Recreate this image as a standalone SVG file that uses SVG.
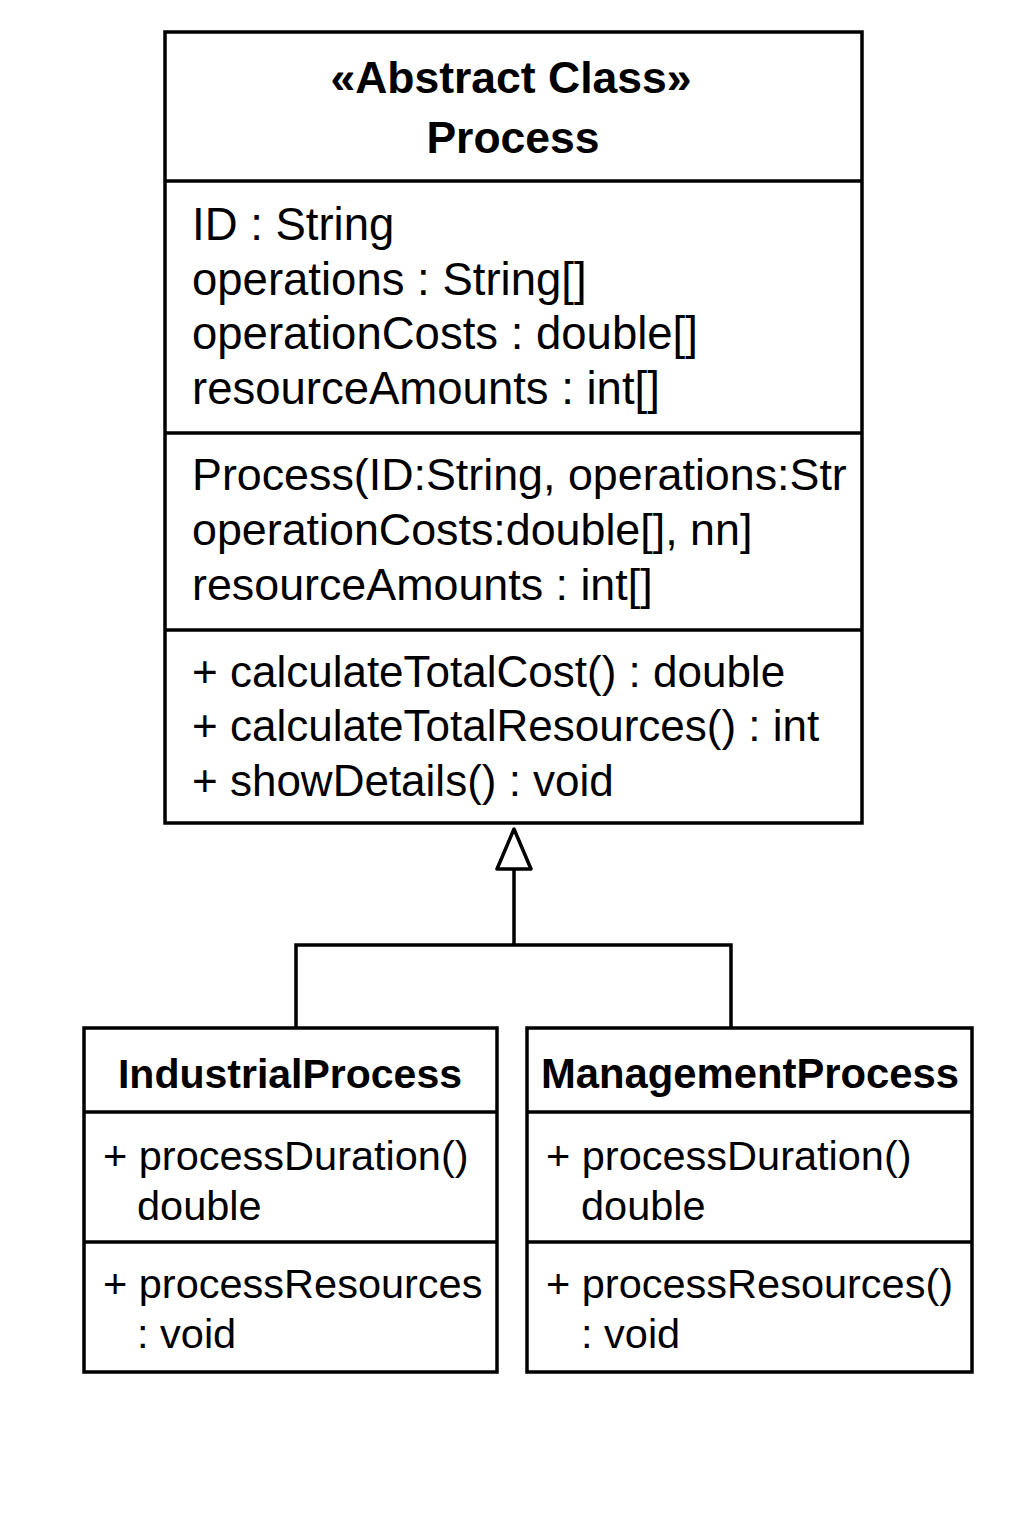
<svg xmlns="http://www.w3.org/2000/svg" width="1024" height="1536" viewBox="0 0 1024 1536">
<style>
.box{fill:#fff;stroke:#000;stroke-width:3.5}
.div{stroke:#000;stroke-width:3.5}
.conn{fill:none;stroke:#000;stroke-width:3.5}
.t{font-family:"Liberation Sans",Arial,sans-serif;font-size:44px;fill:#000}
.a{font-family:"Liberation Sans",Arial,sans-serif;font-size:45.5px;fill:#000}
.c{font-family:"Liberation Sans",Arial,sans-serif;font-size:44.8px;fill:#000}
.h{font-family:"Liberation Sans",Arial,sans-serif;font-size:44.5px;font-weight:bold;fill:#000;text-anchor:middle}
.s{font-family:"Liberation Sans",Arial,sans-serif;font-size:41.5px;fill:#000}
.sh{font-family:"Liberation Sans",Arial,sans-serif;font-size:41px;font-weight:bold;fill:#000;text-anchor:middle}
</style>
<rect width="1024" height="1536" fill="#fff"/>
<g id="connectors">
<polyline class="conn" points="296,1028 296,945 731,945 731,1028"/>
<line class="conn" x1="514" y1="945" x2="514" y2="869"/>
<polygon points="514,829 497,869 531,869" fill="#fff" stroke="#000" stroke-width="3.5" stroke-linejoin="round"/>
</g>
<g id="Process">
<rect class="box" x="165" y="32" width="697" height="791"/>
<line class="div" x1="165" y1="181" x2="862" y2="181"/>
<line class="div" x1="165" y1="433" x2="862" y2="433"/>
<line class="div" x1="165" y1="630" x2="862" y2="630"/>
<text class="h" x="511" y="93">«Abstract Class»</text>
<text class="h" x="513" y="153">Process</text>
<text class="a" x="192" y="240">ID : String</text>
<text class="a" x="192" y="295">operations : String[]</text>
<text class="a" x="192" y="349">operationCosts : double[]</text>
<text class="a" x="192" y="404">resourceAmounts : int[]</text>
<text class="c" x="192" y="490">Process(ID:String, operations:Str</text>
<text class="c" x="192" y="545">operationCosts:double[], nn]</text>
<text class="c" x="192" y="600">resourceAmounts : int[]</text>
<text class="t" x="192" y="687">+ calculateTotalCost() : double</text>
<text class="t" x="192" y="741">+ calculateTotalResources() : int</text>
<text class="t" x="192" y="796">+ showDetails() : void</text>
</g>
<g id="IndustrialProcess">
<rect class="box" x="84" y="1028" width="413" height="344"/>
<line class="div" x1="84" y1="1112" x2="497" y2="1112"/>
<line class="div" x1="84" y1="1242" x2="497" y2="1242"/>
<text class="sh" x="290" y="1088">IndustrialProcess</text>
<text class="s" x="103" y="1170">+ processDuration()</text>
<text class="s" x="137" y="1220">double</text>
<text class="s" x="103" y="1298">+ processResources</text>
<text class="s" x="137" y="1348">: void</text>
</g>
<g id="ManagementProcess">
<rect class="box" x="527" y="1028" width="445" height="344"/>
<line class="div" x1="527" y1="1112" x2="972" y2="1112"/>
<line class="div" x1="527" y1="1242" x2="972" y2="1242"/>
<text class="sh" x="750" y="1088" style="font-size:41.8px">ManagementProcess</text>
<text class="s" x="546" y="1170">+ processDuration()</text>
<text class="s" x="581" y="1220">double</text>
<text class="s" x="546" y="1298">+ processResources()</text>
<text class="s" x="581" y="1348">: void</text>
</g>
</svg>
